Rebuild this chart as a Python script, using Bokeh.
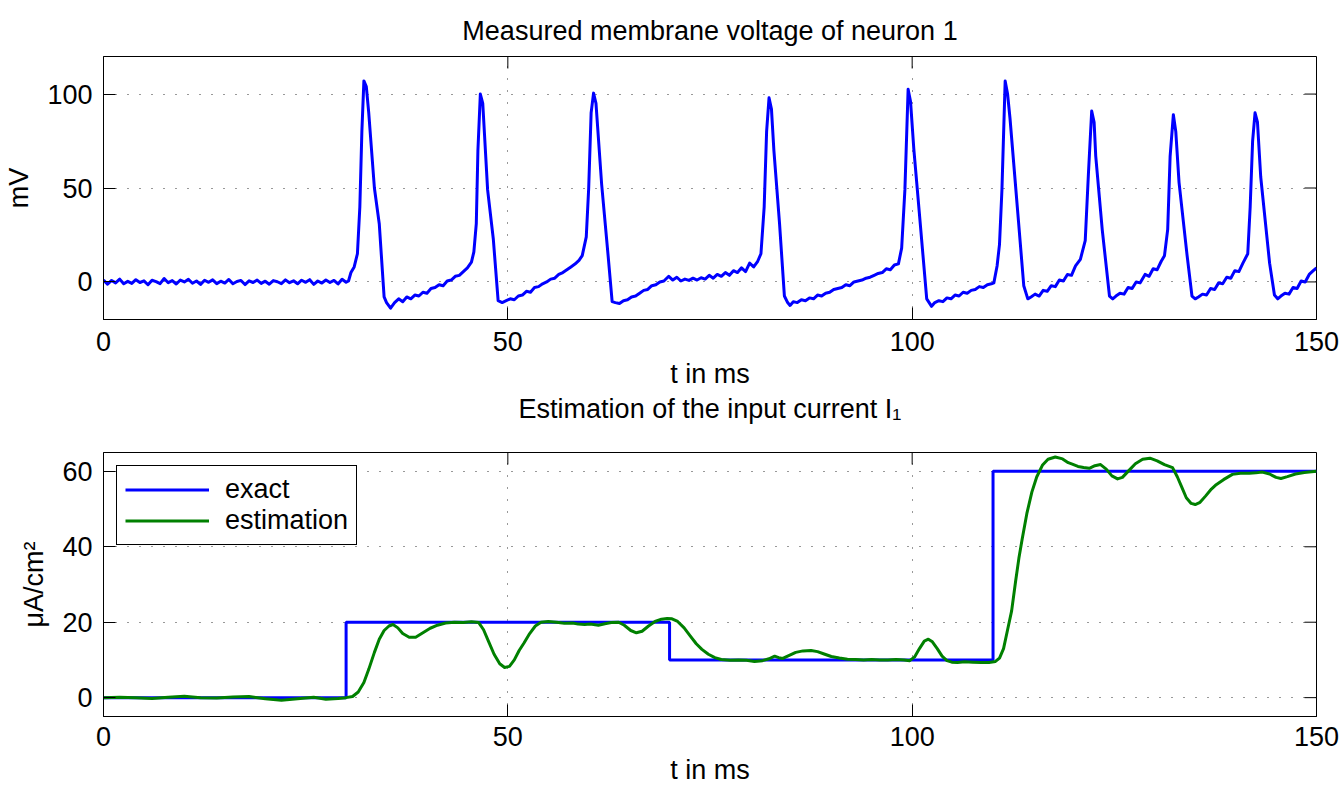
import math
from bokeh.plotting import figure
from bokeh.layouts import column
from bokeh.models import Range1d, FixedTicker, Title
from bokeh.embed import file_html
from bokeh.resources import INLINE

# ---------------- data: measured membrane voltage (mV) ----------------
rest_t = [0, 0.5, 1, 1.5, 2, 2.5, 3, 3.5, 4, 4.5, 5, 5.5, 6, 6.5, 7, 7.5, 8, 8.5, 9, 9.5,
          10, 10.5, 11, 11.5, 12, 12.5, 13, 13.5, 14, 14.5, 15, 15.5, 16, 16.5, 17, 17.5, 18, 18.5, 19, 19.5,
          20, 20.5, 21, 21.5, 22, 22.5, 23, 23.5, 24, 24.5, 25, 25.5, 26, 26.5, 27, 27.5, 28, 28.5, 29, 29.5, 30]
rest_mv = [1.0, -1.2, 0.8, -0.5, 1.5, -1.0, 0.3, -0.8, 1.2, -0.3,
           0.6, -1.5, 0.9, 0.2, -0.9, 1.8, -0.4, 0.7, -1.1, 1.0,
           0.0, 1.4, -0.7, 0.5, -1.3, 0.9, -0.2, 1.1, -0.9, 0.4,
           -0.6, 1.3, -1.0, 0.2, 0.8, -1.4, 0.6, -0.3, 1.0, -0.8,
           0.4, -1.2, 0.7, 0.1, -0.9, 1.1, -0.4, 0.6, -1.0, 0.9,
           -0.2, 1.2, -1.3, 0.5, -0.6, 1.0, -0.3, 0.8, -1.1, 1.4, -0.2]

spike1_t = [30.3, 30.6, 31.0, 31.4, 31.7, 31.95, 32.2, 32.5, 32.8, 33.5,
            34.1, 34.7, 35.0, 35.5, 36.0, 36.5, 37, 37.5, 38, 38.5,
            39, 39.5, 40, 40.5, 41, 41.5, 42, 42.5, 43, 43.5, 44, 44.5, 45, 45.5]
spike1_mv = [0.5, 5, 8, 15, 40, 80, 107, 104, 90, 50,
             31, -8, -11, -14, -11, -9, -10.5, -8, -9, -7,
             -7.5, -5.5, -6, -3.5, -3, -1.5, -2, 0.5, 1, 3, 3.5, 5.5, 7.5, 10.5]

spike2_t = [45.8, 46.1, 46.3, 46.6, 46.9, 47.5, 48.2, 48.8, 49.3, 49.8,
            50.3, 50.8, 51.3, 51.8, 52.3, 52.8, 53.3, 53.8, 54.3, 54.8,
            55.3, 55.8, 56.3, 56.8, 57.3, 57.8, 58.3, 58.8, 59.2]
spike2_mv = [16, 31, 70, 100, 95, 49, 23, -10, -11, -10,
             -9, -9.5, -7.5, -7, -5, -5.5, -3, -2.5, -1, 0,
             1.5, 2, 4, 5, 6.5, 8, 9.5, 11.5, 14]

spike3_t = [59.7, 60.0, 60.3, 60.6, 60.9, 61.6, 62.4, 62.9, 63.3, 63.8,
            64.3, 64.8, 65.3, 65.8, 66.3, 66.8, 67.3, 67.8, 68.3, 68.8,
            69.3, 69.9, 70.4, 70.9, 71.4, 71.9, 72.4, 72.9, 73.4, 73.9,
            74.4, 74.9, 75.4, 75.9, 76.4, 76.9, 77.4, 77.9, 78.4, 78.9,
            79.4, 79.9, 80.4, 80.9, 81.3]
spike3_mv = [24, 50, 90, 100.5, 95, 52, 14, -10.5, -11, -11.5,
             -10, -9.5, -8, -7.5, -6, -4.5, -4, -2, -1.5, 0,
             0.5, 3, 1, 2.5, 0.5, 1.5, 0.8, 2, 1, 2.2,
             1.5, 3.5, 2, 4, 3, 5, 3.5, 6, 5, 7.5,
             5.5, 10, 8, 11, 15]

spike4_t = [81.7, 82.0, 82.3, 82.6, 82.9, 83.6, 84.2, 84.6, 84.9, 85.3,
            85.8, 86.3, 86.8, 87.3, 87.8, 88.3, 88.8, 89.3, 89.8, 90.3,
            90.8, 91.3, 91.8, 92.3, 92.8, 93.3, 93.8, 94.3, 94.8, 95.3,
            95.8, 96.3, 96.8, 97.3, 97.8, 98.3]
spike4_mv = [40, 80, 98, 92, 70, 31, -7.5, -11, -12.5, -10.5,
             -11, -9.5, -10, -8.5, -9, -7, -7.5, -6, -5.5, -4,
             -3.5, -3, -1.5, -2, 0, 0.5, 1, 2, 2.5, 3.5,
             4.5, 5, 7, 6.5, 9, 9.6]

spike5_t = [98.7, 99.1, 99.5, 99.8, 100.2, 101.0, 101.8, 102.1, 102.4, 102.8,
            103.3, 103.8, 104.3, 104.8, 105.3, 105.8, 106.3, 106.8, 107.3, 107.8,
            108.3, 108.8, 109.3, 109.8, 110.1]
spike5_mv = [18, 49, 102.6, 96, 71, 31, -9, -11, -13, -11,
             -10, -10.5, -8.5, -9, -7, -7.5, -5.5, -6, -4.5, -4,
             -2.5, -3, -1.5, -1, -0.5]

spike6_t = [110.5, 110.8, 111.1, 111.5, 111.8, 112.1, 113.0, 113.8, 114.3, 114.7,
            115.2, 115.7, 116.2, 116.7, 117.2, 117.7, 118.2, 118.7, 119.2, 119.7,
            120.2, 120.8, 121.4]
spike6_mv = [8.5, 20, 49, 107, 100, 87, 40, -2, -9, -8,
             -6.5, -7.5, -4.5, -5, -2, -2.5, 1, 0.5, 4, 3.5,
             8.5, 12, 22]

spike7_t = [121.8, 122.2, 122.5, 122.7, 123.5, 124.4, 124.8, 125.2, 125.7, 126.2,
            126.7, 127.2, 127.7, 128.2, 128.8, 129.3, 129.8, 130.3, 130.8, 131.2, 131.6]
spike7_mv = [58, 91, 85, 67, 28, -7.5, -9, -7.5, -6, -6.5,
             -3, -3.5, 0, -0.5, 4, 3, 7, 6.5, 11, 14, 28]

spike8_t = [131.9, 132.3, 132.6, 133.0, 134.0, 134.6, 135.0, 135.4, 135.9, 136.4,
            136.9, 137.4, 137.9, 138.4, 138.9, 139.4, 139.9, 140.4, 140.9, 141.5]
spike8_mv = [67, 89, 80, 53, 14, -7.5, -9, -8, -6.5, -7,
             -3.5, -4, -0.5, -1, 2.5, 2, 6, 5.5, 10, 15]

spike9_t = [141.8, 142.1, 142.4, 142.7, 143.1, 144.2, 144.8, 145.2, 145.6, 146.1,
            146.6, 147.1, 147.6, 148.1, 148.6, 149.1, 149.6, 150]
spike9_mv = [40, 75, 90, 85, 56, 10, -7, -9, -7.5, -6,
             -6.5, -3, -3.5, 0.5, 0, 4, 6, 7.5]

# ---------------- data: input current (uA/cm^2) ----------------
exact_t = [0, 30, 70, 110, 150]
exact_val = [0, 20, 10, 60, 60]

est1_t = [0, 2, 4, 6, 8, 10, 12, 14, 16, 18, 20, 22, 24, 26, 27.5, 29, 30]
est1_val = [0, 0.1, 0, -0.2, 0.1, 0.4, 0, -0.1, 0.2, 0.3, -0.3, -0.7, -0.3, 0.1, -0.4, -0.2, 0]

est2_t = [30.8, 31.5, 32.2, 32.8, 33.5, 34.1, 34.7, 35.3, 35.8, 36.4,
          37, 37.8, 38.6, 39.5, 40.4, 41.3, 42.3, 43.4, 44.5, 45.5,
          46.4, 47, 47.6, 48.3, 49, 49.6, 50.2, 50.8, 51.4, 52,
          52.7, 53.4, 54.1, 55, 56, 57, 58, 58.7, 59.5, 60.2,
          61.2, 62, 62.8, 63.7, 64.4, 65.2, 65.9, 66.6, 67.4, 68.2, 69, 69.7]
est2_val = [0.3, 1.5, 4, 7.5, 12, 15.5, 17.8, 19, 19.4, 18.5,
            17, 16, 16, 17.2, 18.4, 19.2, 19.8, 20, 19.9, 20.1,
            19.9, 18, 15, 11.5, 9, 8, 8.3, 10, 12.5, 14.5,
            17, 19, 20, 20.2, 20, 19.7, 19.8, 19.5, 19.4, 19.5,
            19.2, 19.6, 19.9, 20, 19.2, 17.8, 17.2, 17.6, 19, 20.2, 20.8, 21]

est3_t = [70.3, 71, 71.8, 72.5, 73.3, 74, 74.8, 75.6, 76.4, 77.5,
          78.5, 79.5, 80.5, 81.5, 82.3, 83, 83.5, 84, 84.8, 85.6,
          86.5, 87.5, 88.3, 89.2, 90, 91, 92, 93, 94, 95,
          96, 97, 98, 99, 99.7, 100.3, 100.9, 101.5, 102, 102.5,
          103.1, 103.7, 104.3, 104.9, 105.6, 106.5, 107.5, 108.5, 109.5, 110.3]
est3_val = [20.9, 20.2, 18.5, 16.5, 14.3, 12.8, 11.5, 10.6, 10.1, 9.9,
            10, 9.9, 9.6, 9.8, 10.3, 11, 10.6, 10.4, 11.2, 12,
            12.4, 12.5, 12.2, 11.5, 10.9, 10.5, 10.2, 10.1, 10, 10.1,
            10, 10, 10.1, 10, 9.8, 10.8, 13, 15, 15.5, 14.8,
            13, 11, 9.8, 9.4, 9.3, 9.5, 9.4, 9.3, 9.3, 9.6]

est4_t = [110.8, 111.3, 111.8, 112.3, 112.8, 113.2, 113.6, 114.2, 114.8, 115.4,
          116.1, 116.8, 117.7, 118.6, 119.3, 119.8, 120.5, 121.2, 121.9, 122.6,
          123.3, 124, 124.7, 125.4, 126, 126.7, 127.6, 128.5, 129.4, 130.3,
          131.2, 132.2, 132.8, 133.3, 133.9, 134.5, 135, 135.6, 136.3, 137,
          137.5, 138.5, 139.6, 140.6, 141.7, 142.5, 143.3, 144.2, 145, 145.6,
          146.4, 147.4, 148.5, 150]
est4_val = [10.5, 13, 18, 23, 31, 37, 42, 49, 54.5, 58.5,
            61.6, 63.2, 63.8, 63.3, 62.3, 61.9, 61.3, 61, 60.8, 61.5,
            61.8, 60.6, 58.8, 58, 58.4, 60, 62, 63.2, 63.5, 62.8,
            61.8, 61, 58.5, 56, 53, 51.5, 51.2, 51.8, 53.5, 55.3,
            56.3, 57.8, 59.2, 59.5, 59.5, 59.6, 59.8, 59.3, 58.4, 58.1,
            58.6, 59.3, 59.7, 60]

x_ticks = [0, 50, 100, 150]
v_ticks = [0, 50, 100]
i_ticks = [0, 20, 40, 60]
t_lim = (0, 150)
v_lim = (-20, 120)
i_lim = (-5, 65)

volt_t = rest_t + spike1_t + spike2_t + spike3_t + spike4_t + spike5_t + spike6_t + spike7_t + spike8_t + spike9_t
volt_mv = rest_mv + spike1_mv + spike2_mv + spike3_mv + spike4_mv + spike5_mv + spike6_mv + spike7_mv + spike8_mv + spike9_mv
est_t = est1_t + est2_t + est3_t + est4_t
est_val = est1_val + est2_val + est3_val + est4_val
assert len(volt_t) == len(volt_mv) and len(est_t) == len(est_val)

FONT = "Liberation Sans"
FS = "27px"
BLUE = "#0000FF"
GREEN = "#008000"
TICK = 12


def style(p, yticks, ylabel, ylim, lab_so, axl_so):
    p.outline_line_color = "black"
    p.outline_line_width = 1
    p.outline_line_alpha = 1
    p.background_fill_color = "white"
    p.border_fill_color = "white"
    for ax in p.xaxis + p.yaxis:
        ax.major_tick_in = TICK
        ax.major_tick_out = 0
        ax.minor_tick_line_color = None
        ax.major_tick_line_color = "black"
        ax.axis_line_color = "black"
        ax.major_label_text_font = FONT
        ax.major_label_text_font_size = FS
        ax.major_label_text_color = "black"
        ax.axis_label_text_font = FONT
        ax.axis_label_text_font_size = FS
        ax.axis_label_text_font_style = "normal"
        ax.axis_label_text_color = "black"
    p.xaxis.ticker = FixedTicker(ticks=x_ticks)
    p.yaxis.ticker = FixedTicker(ticks=yticks)
    p.xaxis.axis_label = "t in ms"
    p.yaxis.axis_label = ylabel
    p.xaxis.major_label_standoff = lab_so
    p.xaxis.axis_label_standoff = axl_so
    p.yaxis.major_label_standoff = 11
    p.yaxis.axis_label_standoff = 10
    p.xgrid.ticker = FixedTicker(ticks=x_ticks)
    p.ygrid.ticker = FixedTicker(ticks=yticks)
    for g in (p.xgrid[0], p.ygrid[0]):
        g.grid_line_color = "#333333"
        g.grid_line_dash = "1 11"
        g.grid_line_width = 1
    # mirrored inward tick marks on the top and right edges of the box
    p.ray(x=x_ticks, y=[ylim[1]] * len(x_ticks), length=TICK, length_units="screen",
          angle=-math.pi / 2, line_color="black", line_width=1)
    p.ray(x=[t_lim[1]] * len(yticks), y=yticks, length=TICK, length_units="screen",
          angle=math.pi, line_color="black", line_width=1)


def title_style(t):
    t.text_font = FONT
    t.text_font_size = FS
    t.text_font_style = "normal"
    t.text_color = "black"
    t.align = "center"


# top panel: frame at y 56..319; its bottom border also carries the lower panel's title
p1 = figure(frame_width=1213, frame_height=263, x_range=Range1d(*t_lim), y_range=Range1d(*v_lim),
            output_backend="svg", toolbar_location=None,
            min_border_left=103, min_border_right=25, min_border_top=56, min_border_bottom=123,
            title="Measured membrane voltage of neuron 1")
style(p1, v_ticks, "mV", v_lim, 12, 5)
title_style(p1.title)
p1.title.standoff = 22
p1.line(volt_t, volt_mv, line_color=BLUE, line_width=3, line_join="round")

t2 = Title(text="Estimation of the input current I\u2081", standoff=0)
title_style(t2)
p1.add_layout(t2, "below")

# bottom panel: frame at y 452..716
p2 = figure(frame_width=1213, frame_height=264, x_range=Range1d(*t_lim), y_range=Range1d(*i_lim),
            output_backend="svg", toolbar_location=None,
            min_border_left=103, min_border_right=25, min_border_top=10, min_border_bottom=69)
style(p2, i_ticks, "\u03bcA/cm\u00b2", i_lim, 10, 6)
p2.step(exact_t, exact_val, mode="after", line_color=BLUE, line_width=3, legend_label="exact")
p2.line(est_t, est_val, line_color=GREEN, line_width=3, line_join="round", legend_label="estimation")

lg = p2.legend[0]
lg.location = "top_left"
lg.margin = 13
lg.padding = 8
lg.spacing = 0
lg.glyph_width = 84
lg.glyph_height = 27
lg.label_standoff = 16
lg.label_text_font = FONT
lg.label_text_font_size = FS
lg.label_text_color = "black"
lg.border_line_color = "black"
lg.border_line_width = 1
lg.border_line_alpha = 1
lg.background_fill_alpha = 1

layout = column(p1, p2, spacing=0)
open("out.html", "w").write(file_html(layout, INLINE))
